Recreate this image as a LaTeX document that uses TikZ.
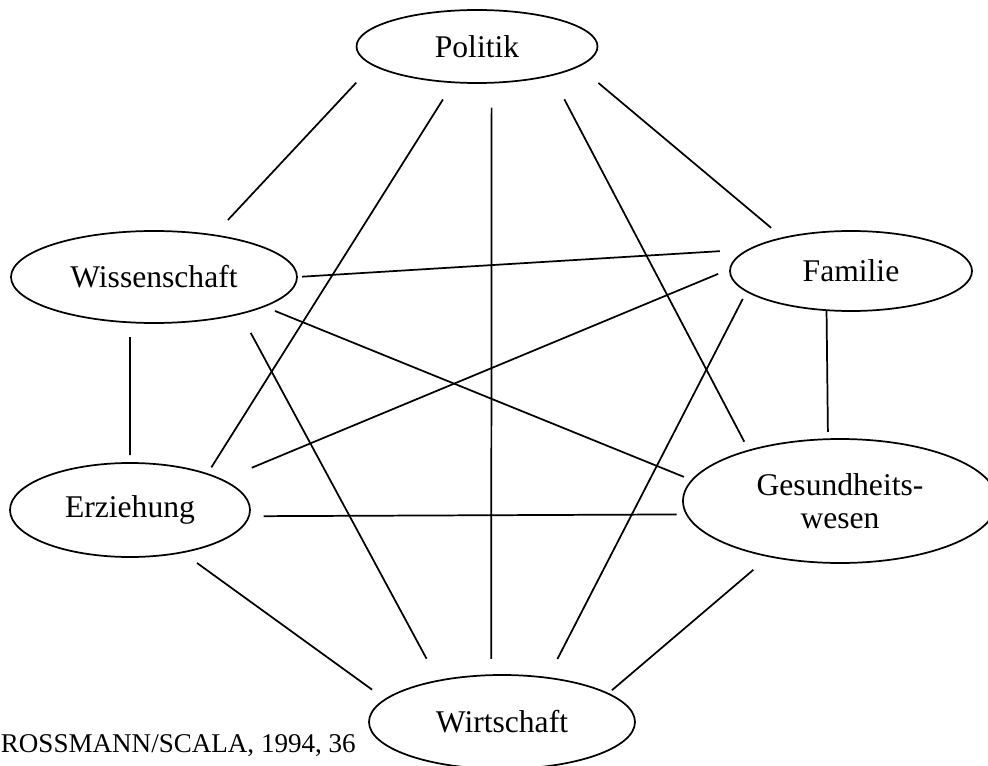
\documentclass[tikz,border=0pt]{standalone}
\usepackage{fontspec}
\setmainfont{Liberation Serif}
\usetikzlibrary{shapes.geometric}

\begin{document}
\begin{tikzpicture}[x=0.75pt, y=-0.75pt, line width=1.3pt,
  sysnode/.style={ellipse, draw, inner sep=0pt, outer sep=0pt, align=center,
    font=\fontsize{23.7}{24.75}\selectfont},
  gap/.style 2 args={shorten <=#1pt, shorten >=#2pt}]
\useasboundingbox (0,0) rectangle (988,766);
% subsystems
\node[sysnode, minimum width=180.75pt, minimum height=54.75pt] (pol) at (477,46.5) {Politik};
\node[sysnode, minimum width=214.5pt, minimum height=69pt] (wis) at (154,277) {Wissenschaft};
\node[sysnode, minimum width=181.5pt, minimum height=60pt] (fam) at (851,271) {Familie};
\node[sysnode, minimum width=180pt, minimum height=70.5pt] (erz) at (130,510) {Erziehung};
\node[sysnode, minimum width=235.5pt, minimum height=93pt] (ges) at (840,501) {Gesundheits-\\wesen};
\node[sysnode, minimum width=199.5pt, minimum height=70.5pt] (wir) at (502,722) {Wirtschaft};
% couplings
\draw[gap={18.3}{15.6}] (pol.190.7) -- (wis.35.6);
\draw[gap={15.2}{5.9}] (pol.237.2) -- (erz.25.7);
\draw[gap={18.6}{12.2}] (pol.-68.9) -- (wir.103.2);
\draw[gap={20.4}{7.5}] (pol.-21.5) -- (ges.151.5);
\draw[gap={19.5}{11.7}] (pol.-11.5) -- (fam.154.1);
\draw[gap={9.0}{6.6}] (wis.-15.0) -- (ges.172.5);
\draw[gap={11.0}{6.0}] (wis.242.1) -- (erz.90);
\draw[gap={16.4}{18.8}] (wis.-23.25) -- (wir.147.9);
\draw[gap={3.8}{22.1}] (wis.0.7) -- (fam.168.7);
\draw[gap={9.8}{23.9}] (fam.179.5) -- (erz.18.8);
\draw[gap={6.4}{15.9}] (fam.191.9) -- (wir.44.4);
\draw[gap={0.6}{5.4}] (fam.238.5) -- (ges.101.9);
\draw[gap={11.1}{7.6}] (erz.-3.9) -- (ges.185.2);
\draw[gap={13.7}{12.4}] (erz.-39.0) -- (wir.169.2);
\draw[gap={15.6}{3.9}] (ges.218.9) -- (wir.15.3);
% source
\node[anchor=base west, inner sep=0pt, font=\fontsize{20.3}{24}\selectfont] (src) at (0,752) {ROSSMANN/SCALA, 1994, 36};
\end{tikzpicture}
\end{document}
